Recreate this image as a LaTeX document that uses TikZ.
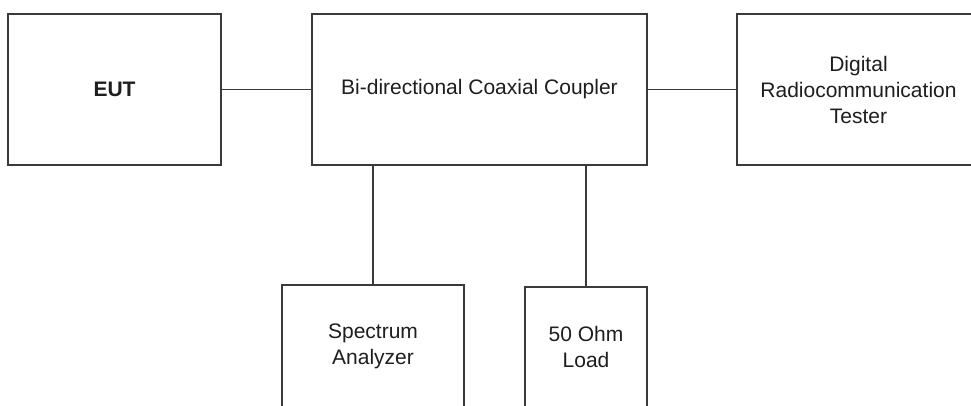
\documentclass[tikz,border=0pt]{standalone}
\usepackage{fontspec}
\setmainfont{Liberation Sans}
\definecolor{linec}{HTML}{3A3A3A}
\definecolor{textc}{HTML}{1E1E1E}
\begin{document}
\begin{tikzpicture}[x=1pt,y=-1pt,
  box/.style={draw=linec,line width=1.6pt,fill=white,rectangle,inner sep=0pt,
    align=center,text=textc,font=\fontsize{21}{26}\selectfont},
  wire/.style={draw=linec,line width=1.6pt}]
\useasboundingbox (0,0) rectangle (971,405);
\clip (0,0) rectangle (971,405);
\node[box,minimum width=213pt,minimum height=151pt,font=\fontsize{21}{26}\selectfont\bfseries] (eut) at (114.5,89.5) {EUT};
\node[box,minimum width=335pt,minimum height=151pt] (cpl) at (479.5,89.5) {Bi-directional Coaxial Coupler};
\node[box,minimum width=243pt,minimum height=151pt] (drt) at (858.5,89.5) {Digital\\Radiocommunication\\Tester};
\node[box,minimum width=182pt,minimum height=122pt] (sa) at (373,346) {Spectrum\\Analyzer};
\node[box,minimum width=122pt,minimum height=120pt] (load) at (586,347) {50 Ohm\\Load};
\draw[wire] (eut.east) -- (cpl.west);
\draw[wire] (cpl.east) -- (drt.west);
\draw[wire] (sa.north) -- (sa.north |- cpl.south);
\draw[wire] (load.north) -- (load.north |- cpl.south);
\end{tikzpicture}
\end{document}
